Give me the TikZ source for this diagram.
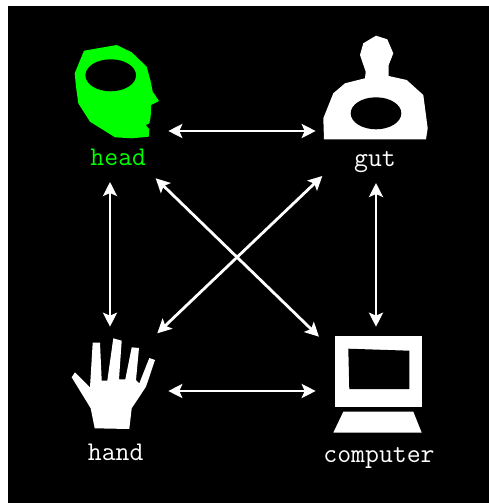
\documentclass[tikz,border=0pt]{standalone}
\usetikzlibrary{arrows.meta}
\definecolor{headgreen}{HTML}{00FF00}
\tikzset{
  lbl/.style={inner sep=0pt,anchor=base,font=\ttfamily\fontsize{27}{27}\selectfont,text=white},
  link/.style={draw=white,line width=2.8pt,{Stealth[length=14pt,width=14pt,inset=3pt]}-{Stealth[length=14pt,width=14pt,inset=3pt]}},
  hole/.style={fill=black,draw=none},
}
\begin{document}
\begin{tikzpicture}[x=1pt,y=-1pt]
\useasboundingbox (0,0) rectangle (489,503);
\fill[white] (0,0) rectangle (489,503);
\fill[black] (8,6) rectangle (489,503);
% head
\fill[headgreen] (84,50.7)--(116.7,45)--(131.7,52.3)--(146.7,66.7)--(150.7,81.7)--(152.7,91.7)--(159,101)--(151,105)--(150.7,116.7)--(149.3,123.3)--(145.7,125)--(149.3,129.3)--(148.7,136.7)--(131.7,138.3)--(115,137.3)--(90,121.7)--(78.3,103.3)--(76,86.7)--(74.7,73.3)--cycle;
\fill[hole] (110.7,75.3) ellipse [x radius=25.3,y radius=16];
% gut
\fill[white] (376,35.7)--(387.3,39.3)--(393.3,53.3)--(388.7,65)--(388.7,76)--(406.7,80)--(423.3,95)--(427.7,128.3)--(426,139.3)--(324,139.3)--(323.3,118.3)--(333.3,93.3)--(345,83.3)--(365,78.3)--(365.7,71.7)--(360,55)--(363.3,43.3)--cycle;
\fill[hole] (376,113.3) ellipse [x radius=25.3,y radius=16];
% hand
\fill[white] (92.7,342.7)--(100,342.7)--(101.7,380.7)--(107.3,380.7)--(113.3,338.3)--(121.7,340.7)--(119,379.3)--(125.3,379.3)--(131.7,347.3)--(139,348)--(136,380)--(139.3,383.3)--(149.3,358)--(155,360)--(146,386.7)--(131.7,408.3)--(129.3,429)--(94.7,428.3)--(90.7,408.3)--(71.7,377.3)--(75,372.3)--(90,387.3)--cycle;
% computer
\fill[white] (335,336.3) rectangle (421.7,407.3);
\fill[hole] (348.3,348.7)--(409.3,350.7)--(409.3,389)--(349.3,389)--cycle;
\fill[white] (343.3,411.7)--(413.3,411.7)--(421.7,432.7)--(333.3,432.7)--cycle;
% labels
\node[lbl,text=headgreen] (headlabel) at (118.3,165) {head};
\node[lbl] (gutlabel) at (375,166.7) {gut};
\node[lbl] (handlabel) at (115.7,460) {hand};
\node[lbl] (computerlabel) at (379,462.7) {computer};
% connector ends
\coordinate (headE) at (168.3,131);
\coordinate (gutW) at (315.7,131);
\coordinate (handE) at (168.3,391);
\coordinate (compW) at (315.7,391);
\coordinate (headS) at (110,182);
\coordinate (handN) at (110,326.7);
\coordinate (gutS) at (376,183);
\coordinate (compN) at (376,326.7);
\coordinate (headSE) at (155.7,178.3);
\coordinate (compNW) at (319,336.7);
\coordinate (gutSW) at (322.3,176);
\coordinate (handNE) at (157.3,333.3);
\draw[link] (headE)--(gutW);
\draw[link] (handE)--(compW);
\draw[link] (headS)--(handN);
\draw[link] (gutS)--(compN);
\draw[link] (headSE)--(compNW);
\draw[link] (gutSW)--(handNE);
\end{tikzpicture}
\end{document}
